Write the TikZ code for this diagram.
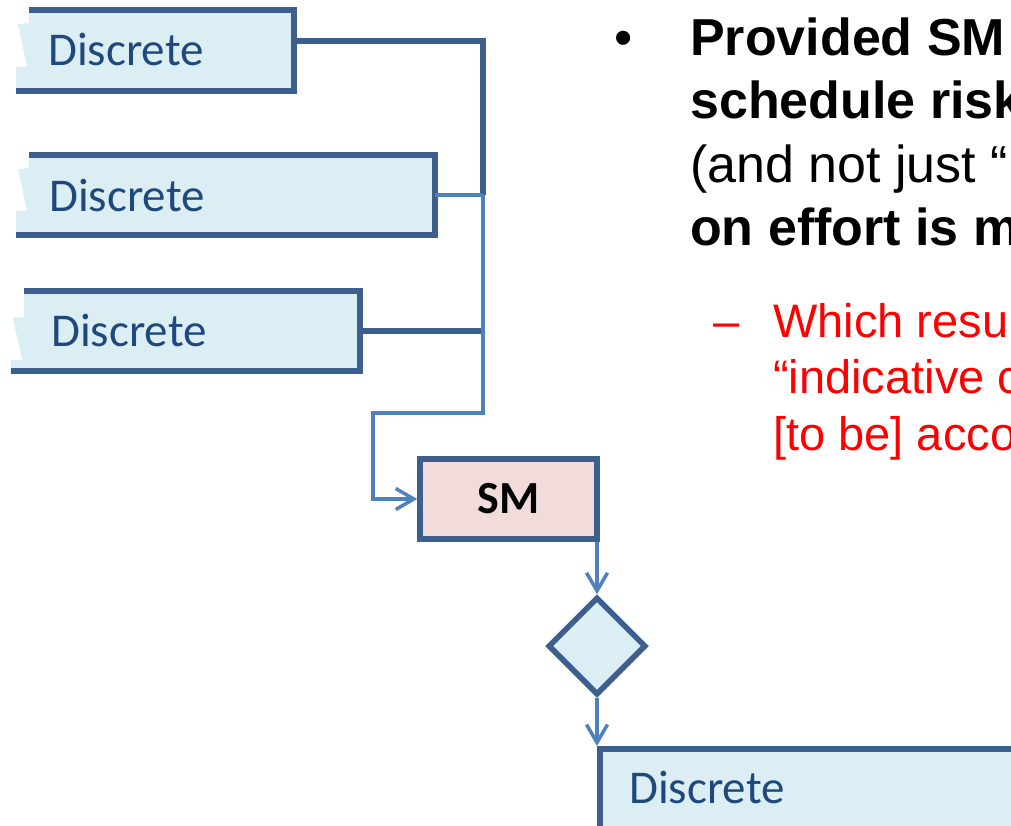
\documentclass[tikz,border=0pt]{standalone}
\usepackage{fontspec}
\setmainfont{Liberation Sans}
\newfontfamily\calib{Carlito}
\usetikzlibrary{calc,shapes.geometric,arrows.meta}

\definecolor{frame}{RGB}{60,95,142}
\definecolor{flow}{RGB}{79,129,189}
\definecolor{paleblue}{RGB}{219,238,244}
\definecolor{palepink}{RGB}{242,220,219}
\definecolor{labelblue}{RGB}{31,73,125}
\definecolor{alert}{RGB}{255,0,0}

\tikzset{
  tab/.style={draw=none, rectangle, inner sep=0pt, outer sep=0pt, anchor=north west},
  tabfill/.style={fill=paleblue},
  tabline/.style={draw=frame, line width=5.5pt},
  tablabel/.style={font=\calib\fontsize{47}{50}\selectfont, text=labelblue, inner sep=0pt, anchor=base west},
  openbox/.style={rectangle, draw=frame, line width=5.5pt, fill=paleblue, inner sep=0pt, anchor=north west},
  smbox/.style={rectangle, draw=frame, line width=5.5pt, fill=palepink, minimum width=177pt, minimum height=80pt, inner sep=0pt, font=\calib\bfseries\fontsize{46}{50}\selectfont},
  decision/.style={diamond, draw=frame, line width=5.5pt, fill=paleblue, minimum width=98pt, minimum height=98pt, inner sep=0pt},
  trunk/.style={draw=frame, line width=5.5pt},
  branch/.style={draw=flow, line width=3.5pt},
  flowarrow/.style={branch, -{Straight Barb[length=18pt,width=21pt]}},
  bodytext/.style={inner sep=0pt, anchor=base west, font=\fontsize{52}{60}\selectfont},
  subtext/.style={inner sep=0pt, anchor=base west, text=alert, font=\fontsize{47}{55}\selectfont},
}

% paper tab with a torn left edge: #1 node, #2 notch depth, #3 end of the slanted cut
\newcommand\tornshape[3]{%
  \fill[tabfill] ($(#1.north west)+(13,0)$) -- ($(#1.north west)+(13,#2)$)
    -- ($(#1.north west)+(2,#2+1)$) -- ($(#1.north west)+(11,#3)$)
    -- ($(#1.north west)+(0,#3)$) -- (#1.south west) -- (#1.south east)
    -- (#1.north east) -- cycle;
  \draw[tabline] ($(#1.north west)+(13,0)$) -- (#1.north east)
    -- (#1.south east) -- (#1.south west);
}

\begin{document}
\begin{tikzpicture}[x=1pt,y=-1pt]
\useasboundingbox (0,0) rectangle (1011,825);
\clip (0,0) rectangle (1011,825);
\fill[white] (0,0) rectangle (1011,825);

% input tabs
\node[tab, minimum width=278pt, minimum height=81pt] (d1) at (16,10) {};
\node[tab, minimum width=419pt, minimum height=80pt] (d2) at (16,155) {};
\node[tab, minimum width=349pt, minimum height=80pt] (d3) at (11,291) {};
\tornshape{d1}{13}{57}
\tornshape{d2}{13}{56}
\tornshape{d3}{26}{69}
\node[tablabel] (t1) at (48,65.7) {Discrete};
\node[tablabel] (t2) at (49,211) {Discrete};
\node[tablabel] (t3) at (51,346.7) {Discrete};

% merge points
\coordinate (j) at (483,195);
\coordinate (k) at (373,413);

% process and decision
\node[smbox] (sm) at (508.5,499) {SM};
\node[decision] (dec) at (597,646) {};
\node[openbox, minimum width=520pt, minimum height=160pt] (d4) at (597,746) {};
\node[tablabel] (t4) at (629,803) {Discrete};

% connectors
\draw[trunk] ([yshift=-31pt]d1.north east) -| (j);
\draw[branch] (d2.east) -- (d2.east -| j);
\draw[trunk] (d3.east) -- (d3.east -| j);
\draw[flowarrow] (j) |- (k) |- (sm.west);
\draw[flowarrow] (dec.north |- sm.south) -- (dec.north);
\draw[flowarrow] (dec.south) -- (dec.south |- d4.north);

% bullet text
\node[bodytext] (b0) at (614,55) {•};
\node[bodytext] (b1) at (690,55) {\bfseries Provided SM};
\node[bodytext] (b2) at (690,118.5) {\bfseries schedule risk};
\node[bodytext] (b3) at (690,182) {(and not just “};
\node[bodytext] (b4) at (690,245.5) {\bfseries on effort is m};
\node[subtext] (r0) at (713,337) {–};
\node[subtext] (r1) at (773,337) {Which resu};
\node[subtext] (r2) at (773,393.5) {“indicative c};
\node[subtext] (r3) at (773,450) {[to be] acco};
\end{tikzpicture}
\end{document}
